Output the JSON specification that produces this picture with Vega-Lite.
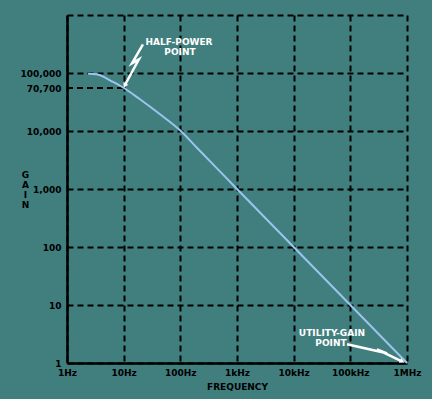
{
  "$schema": "https://vega.github.io/schema/vega-lite/v6.json",
  "autosize": "none",
  "width": 340,
  "height": 348,
  "padding": {"left": 67, "top": 15, "right": 25, "bottom": 36},
  "background": "#417f7f",
  "config": {
    "view": {"stroke": null},
    "font": "DejaVu Sans",
    "axis": {
      "labelFont": "DejaVu Sans",
      "labelFontWeight": "bold",
      "labelFontSize": 9,
      "labelColor": "#000000",
      "titleFont": "DejaVu Sans",
      "titleFontWeight": "bold",
      "titleFontSize": 9,
      "titleColor": "#000000",
      "domainColor": "#000000",
      "domainWidth": 2.5,
      "ticks": false,
      "tickSize": 0,
      "grid": true,
      "gridColor": "#000000",
      "gridWidth": 2,
      "gridDash": [6, 4],
      "gridOpacity": 1
    }
  },
  "datasets": {
    "curve": [
      {"f": 2.35, "g": 97000},
      {"f": 3.3, "g": 95000},
      {"f": 6.5, "g": 70000},
      {"f": 10.1, "g": 55100},
      {"f": 19.4, "g": 35200},
      {"f": 43.8, "g": 19400},
      {"f": 98.6, "g": 10280},
      {"f": 200, "g": 5050},
      {"f": 409, "g": 2460},
      {"f": 1000, "g": 1000},
      {"f": 10000, "g": 100},
      {"f": 100000, "g": 10},
      {"f": 1000000, "g": 1}
    ],
    "bolts": [
      {"s": "a", "i": 1, "f": 21.9, "g": 312600},
      {"s": "a", "i": 2, "f": 14.0, "g": 146900},
      {"s": "a", "i": 3, "f": 18.6, "g": 172200},
      {"s": "a", "i": 4, "f": 10.7, "g": 64000},
      {"s": "b", "i": 1, "f": 87300, "g": 2.10},
      {"s": "b", "i": 2, "f": 443400, "g": 1.47},
      {"s": "b", "i": 3, "f": 295300, "g": 1.72},
      {"s": "b", "i": 4, "f": 780000, "g": 1.09}
    ],
    "tipA": [{"f": 10.6, "g": 62500}],
    "tipB": [{"f": 800000, "g": 1.08}],
    "labels": [
      {"f": 94.7, "g": 338000, "t": "HALF-POWER"},
      {"f": 98.5, "g": 227500, "t": "POINT"},
      {"f": 47400, "g": 3.25, "t": "UTILITY-GAIN"},
      {"f": 45500, "g": 2.19, "t": "POINT"}
    ],
    "halfline": [
      {"f": 1, "f2": 10, "g": 55100}
    ]
  },
  "encoding": {
    "x": {
      "field": "f",
      "type": "quantitative",
      "scale": {"type": "log", "domain": [1, 1000000], "nice": false},
      "axis": {
        "values": [1, 10, 100, 1000, 10000, 100000, 1000000],
        "labelExpr": "datum.value == 1 ? '1Hz' : datum.value == 10 ? '10Hz' : datum.value == 100 ? '100Hz' : datum.value == 1000 ? '1kHz' : datum.value == 10000 ? '10kHz' : datum.value == 100000 ? '100kHz' : '1MHz'",
        "labelPadding": 5,
        "labelBaseline": "top",
        "labelFlush": false,
        "labelOverlap": false,
        "title": "FREQUENCY",
        "titleY": 23,
        "titleBaseline": "middle"
      }
    },
    "y": {
      "field": "g",
      "type": "quantitative",
      "scale": {"type": "log", "domain": [1, 1000000], "nice": false},
      "axis": {
        "values": [1, 10, 100, 1000, 10000, 55100, 100000, 1000000],
        "labelExpr": "datum.value >= 1000000 ? '' : datum.value == 55100 ? '70,700' : format(datum.value, ',d')",
        "labelPadding": 6,
        "labelOverlap": false,
        "labelFlush": false,
        "gridOpacity": {"condition": {"test": "datum.value == 55100", "value": 0}, "value": 1},
        "title": ["G", "A", "I", "N"],
        "titleAngle": 0,
        "titleAlign": "center",
        "titleBaseline": "top",
        "titleLineHeight": 10,
        "titleX": -42,
        "titleY": 155
      }
    }
  },
  "layer": [
    {
      "data": {"name": "halfline"},
      "mark": {"type": "rule", "color": "#000000", "strokeWidth": 2, "strokeDash": [6, 4]},
      "encoding": {"x2": {"field": "f2"}}
    },
    {
      "data": {"name": "curve"},
      "mark": {"type": "line", "color": "#9cc4ee", "strokeWidth": 2, "interpolate": "monotone"},
      "encoding": {}
    },
    {
      "data": {"name": "bolts"},
      "mark": {"type": "line", "color": "#ffffff", "strokeWidth": 2.5},
      "encoding": {
        "detail": {"field": "s"},
        "order": {"field": "i", "type": "quantitative"}
      }
    },
    {
      "data": {"name": "tipA"},
      "mark": {"type": "point", "shape": "triangle", "angle": 208, "filled": true, "color": "#ffffff", "opacity": 1, "size": 30},
      "encoding": {}
    },
    {
      "data": {"name": "tipB"},
      "mark": {"type": "point", "shape": "triangle", "angle": 116, "filled": true, "color": "#ffffff", "opacity": 1, "size": 30},
      "encoding": {}
    },
    {
      "data": {"name": "labels"},
      "mark": {"type": "text", "color": "#ffffff", "font": "DejaVu Sans", "fontWeight": "bold", "fontSize": 9, "align": "center", "baseline": "middle"},
      "encoding": {"text": {"field": "t"}}
    }
  ]
}
